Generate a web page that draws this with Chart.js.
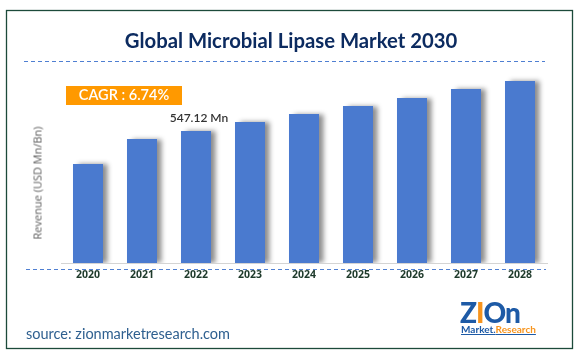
<!DOCTYPE html>
<html>
<head>
<meta charset="utf-8">
<script src="https://cdn.jsdelivr.net/npm/chart.js@4/dist/chart.umd.min.js"></script>
<style>
  html, body { margin: 0; padding: 0; background: #fff; }
  #wrap { position: relative; width: 582px; height: 356px; overflow: hidden; }
  #c { position: absolute; left: 0; top: 0; }
  .t { position: absolute; white-space: nowrap; }
  #cagr { left: 66px; top: 86px; width: 116px; height: 19px; line-height: 19px; text-align: center;
          color: #fff; font: 600 14.5px "Lato", sans-serif; }
  #ytitle { left: 37px; top: 183px; transform: translate(-50%, -50%) rotate(-90deg);
            color: #595959; font: 11px "Open Sans", sans-serif; }
  #source { left: 26px; top: 325px; color: #2f6090; font: 14.5px "Lato", sans-serif; }
  #logo1 { left: 460px; top: 297px; font: 900 28px "Lato", sans-serif; letter-spacing: -1px; color: #1d5aa6; line-height: 30px; }
  #logo2 { left: 461px; top: 323px; font: 700 10px "Lato", sans-serif; color: #1d5aa6; text-decoration: underline; line-height: 12px; }
  .or { color: #f7941d; }
</style>
</head>
<body>
<div id="wrap">
  <canvas id="c" width="582" height="356"></canvas>
  <div class="t" id="cagr">CAGR : 6.74%</div>
  <div class="t" id="ytitle">Revenue (USD Mn/Bn)</div>
  <div class="t" id="source">source: zionmarketresearch.com</div>
  <div class="t" id="logo1">Z<span class="or">I</span>On</div>
  <div class="t" id="logo2">Market.<span class="or">Research</span></div>
</div>
<script>
// ---- data ----
const years = ["2020", "2021", "2022", "2023", "2024", "2025", "2026", "2027", "2028"];
const revenue = [410, 514, 547.12, 584, 618, 651, 684, 721, 754];
const labelIndex = 2;
const labelText = "547.12 Mn";
const chartTitle = "Global Microbial Lipase Market 2030";

const deco = {
  id: 'deco',
  beforeDraw(chart) {
    const c = chart.ctx;
    c.save();
    c.fillStyle = '#ffffff';
    c.fillRect(0, 0, chart.width, chart.height);
    // frame
    c.strokeStyle = '#1c4a3a';
    c.lineWidth = 1.3;
    c.strokeRect(6.5, 10.5, 566, 338);
    // dashed lines
    c.strokeStyle = '#4f7fd2';
    c.lineWidth = 1;
    c.setLineDash([4, 3]);
    c.beginPath(); c.moveTo(24, 61.5); c.lineTo(545, 61.5); c.stroke();
    c.beginPath(); c.moveTo(26, 269.5); c.lineTo(546, 269.5); c.stroke();
    c.setLineDash([]);
    // CAGR box
    c.fillStyle = '#ff9900';
    c.fillRect(66, 86, 116, 19);
    c.restore();
  }
};

const shadow = {
  id: 'shadow',
  beforeDatasetDraw(chart) {
    const c = chart.ctx;
    c.save();
    c.shadowColor = 'rgba(0,0,0,0.45)';
    c.shadowBlur = 5;
    c.shadowOffsetX = 5;
    c.shadowOffsetY = 0;
  },
  afterDatasetDraw(chart) { chart.ctx.restore(); }
};

const valueLabel = {
  id: 'valueLabel',
  afterDatasetsDraw(chart) {
    const bar = chart.getDatasetMeta(0).data[labelIndex];
    const c = chart.ctx;
    c.save();
    c.fillStyle = '#333333';
    c.font = '600 12px "Lato", sans-serif';
    c.textAlign = 'center';
    c.textBaseline = 'middle';
    c.fillText(labelText, bar.x + 3, bar.y - 13);
    c.restore();
  }
};

new Chart(document.getElementById('c'), {
  type: 'bar',
  data: {
    labels: years,
    datasets: [{
      data: revenue,
      backgroundColor: '#4a7acf',
      borderWidth: 0,
      barPercentage: 0.556,
      categoryPercentage: 1.0
    }]
  },
  options: {
    responsive: false,
    animation: false,
    devicePixelRatio: 1,
    layout: { padding: { left: 35, right: 35, top: 0, bottom: 73 } },
    plugins: {
      legend: { display: false },
      tooltip: { enabled: false },
      title: {
        display: true,
        text: chartTitle,
        color: '#0c2b60',
        font: { family: 'Lato', size: 20.3, weight: 'bold' },
        padding: { top: 29, bottom: 16.64 }
      }
    },
    scales: {
      x: {
        grid: { display: false, drawTicks: false },
        border: { display: true, color: '#d4d4d4', width: 1 },
        ticks: { color: '#1e3a2b', font: { family: 'Open Sans', size: 10.5, weight: 'bold' }, padding: 6 },
        afterFit(s) { s.height = 20; }
      },
      y: {
        display: true,
        min: 0,
        max: 800,
        grid: { display: false, drawTicks: false },
        border: { display: false },
        ticks: { display: false },
        title: { display: false },
        afterFit(s) { s.width = 26; }
      }
    }
  },
  plugins: [deco, shadow, valueLabel]
});
</script>
</body>
</html>
